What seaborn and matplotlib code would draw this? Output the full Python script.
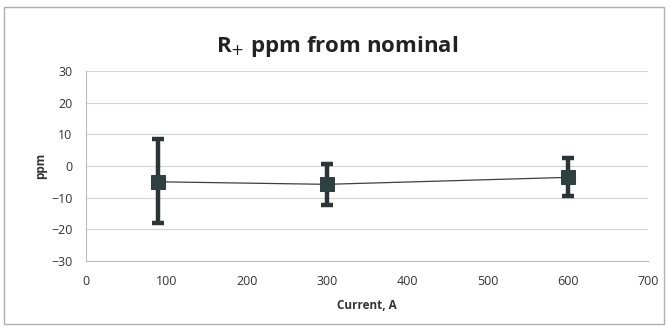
import matplotlib
matplotlib.use("Agg")
import matplotlib.pyplot as plt
import seaborn as sns
import pandas as pd
import numpy as np

current = [90, 300, 600]
ppm = [-5.0, -5.8, -3.6]
err_upper = [8.6, 0.5, 2.4]
err_lower = [-17.9, -12.4, -9.6]

title = "R$_{+}$ ppm from nominal"
xlabel = "Current, A"
ylabel = "ppm"
xticks = [0, 100, 200, 300, 400, 500, 600, 700]
yticks = [-30, -20, -10, 0, 10, 20, 30]

sns.set_theme(style="white")
plt.rcParams['font.family'] = ['Open Sans', 'DejaVu Sans']

df = pd.DataFrame({"current": current, "ppm": ppm})

fig = plt.figure(figsize=(6.68, 3.29), dpi=100)
ax = fig.add_axes([0.129, 0.207, 0.841, 0.577])

yerr = np.array([np.array(ppm) - np.array(err_lower), np.array(err_upper) - np.array(ppm)])
ax.errorbar(current, ppm, yerr=yerr, fmt="none", ecolor="#2b3535", elinewidth=3.2,
            capsize=4.0, capthick=3.2, zorder=3)
sns.lineplot(data=df, x="current", y="ppm", ax=ax, color="#3a4040", linewidth=0.9,
             marker="s", markersize=10, markerfacecolor="#2f4040",
             markeredgecolor="#2f4040", zorder=4)

ax.set_xlim(0, 700)
ax.set_ylim(-30, 30)
ax.set_xticks(xticks)
ax.set_yticks(yticks)
ax.tick_params(axis="both", labelsize=9, length=3, direction="out")
ax.tick_params(axis="y", length=0, pad=10, labelcolor="#333333")
ax.tick_params(axis="x", pad=7, colors="#bdbdbd", labelcolor="#333333")
ax.yaxis.grid(True, color="#d4d4d4", linewidth=0.8)
ax.xaxis.grid(False)
for s in ["top", "right"]:
    ax.spines[s].set_visible(False)
ax.spines["left"].set_color("#bdbdbd")
ax.spines["bottom"].set_color("#bdbdbd")
ax.spines["left"].set_linewidth(0.8)
ax.spines["bottom"].set_linewidth(0.8)

ax.set_xlabel(xlabel, fontsize=8.5, fontweight="bold", color="#333333", labelpad=8)
ax.set_ylabel(ylabel, fontsize=8.5, fontweight="bold", color="#333333", labelpad=3)
fig.text(0.505, 0.86, title, ha="center", va="center", fontsize=16, fontweight="bold",
         color="#222222")

border = plt.Rectangle((0.006, 0.015), 0.988, 0.965, transform=fig.transFigure,
                       fill=False, edgecolor="#b0b0b0", linewidth=1.0)
fig.patches.append(border)

fig.savefig("out.png", dpi=100, facecolor="white")
